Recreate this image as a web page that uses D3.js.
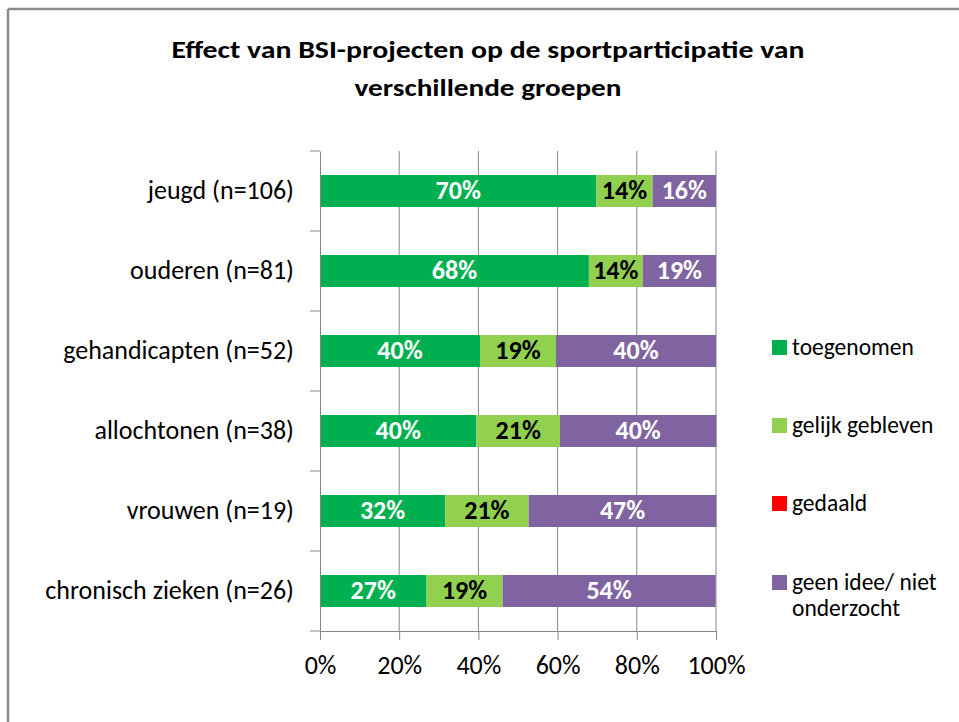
<!DOCTYPE html>
<meta charset="utf-8">
<style>
body{ margin:0; background:#fff; }
text{ font-family: Calibri, Carlito, "Open Sans", sans-serif; }
</style>
<body>
<script src="https://d3js.org/d3.v7.min.js"></script>
<script>
// groups and their shares (percent of n), top to bottom
var groups = ["jeugd (n=106)", "ouderen (n=81)", "gehandicapten (n=52)",
  "allochtonen (n=38)", "vrouwen (n=19)", "chronisch zieken (n=26)"];
var toegenomen = [69.8, 67.9, 40.4, 39.5, 31.6, 26.9];
var gelijk     = [14.2, 13.6, 19.2, 21.1, 21.1, 19.2];
var gedaald    = [0, 0, 0, 0, 0, 0];
var geenIdee   = [16.0, 18.5, 40.4, 39.5, 47.4, 53.8];
var seriesNames = ["toegenomen", "gelijk gebleven", "gedaald", "geen idee/ niet onderzocht"];
var colors = ["#00b050", "#92d050", "#ff0000", "#8064a2"];
var labelColors = ["#fff", "#000", "#fff", "#fff"];
var ticks = [0, 20, 40, 60, 80, 100];

var w = 959, h = 722;
var svg = d3.select("body").append("svg").attr("width", w).attr("height", h);

// chart frame (only top and left edges visible)
svg.append("line").attr("x1", 8).attr("x2", w).attr("y1", 9).attr("y2", 9)
  .attr("stroke", "#8c8c8c").attr("stroke-width", 2.5);
svg.append("line").attr("x1", 8).attr("x2", 8).attr("y1", 9).attr("y2", h)
  .attr("stroke", "#8c8c8c").attr("stroke-width", 2.5);

// title (the original is rendered a bit wider than the font, so fix the lengths)
svg.append("text").attr("text-anchor", "middle").attr("x", 488).attr("y", 58)
  .style("font-size", "25px").style("font-weight", "bold").attr("fill", "#000")
  .attr("textLength", 633).attr("lengthAdjust", "spacingAndGlyphs")
  .text("Effect van BSI-projecten op de sportparticipatie van");
svg.append("text").attr("text-anchor", "middle").attr("x", 488).attr("y", 96)
  .style("font-size", "25px").style("font-weight", "bold").attr("fill", "#000")
  .attr("textLength", 267).attr("lengthAdjust", "spacingAndGlyphs")
  .text("verschillende groepen");

var x = d3.scaleLinear().domain([0, 100]).range([320, 716]);
var y = d3.scaleBand().domain(groups).range([151, 631]).paddingInner(0.6).paddingOuter(0.3);

// gridlines
svg.append("g").selectAll("line").data(ticks.slice(1)).enter().append("line")
  .attr("x1", function(d) { return x(d); }).attr("x2", function(d) { return x(d); })
  .attr("y1", 151).attr("y2", 631)
  .attr("stroke", "#868686").attr("stroke-width", 1);

var keys = ["s0", "s1", "s2", "s3"];
var data = groups.map(function(g, i) {
  return { group: g, s0: toegenomen[i], s1: gelijk[i], s2: gedaald[i], s3: geenIdee[i] };
});
var stack = d3.stack().keys(keys)(data);

var layer = svg.append("g").selectAll("g").data(stack).enter().append("g")
  .attr("fill", function(d, i) { return colors[i]; });

layer.selectAll("rect").data(function(d) { return d; }).enter().append("rect")
  .attr("x", function(d) { return x(d[0]); })
  .attr("y", function(d) { return y(d.data.group); })
  .attr("width", function(d) { return x(d[1]) - x(d[0]); })
  .attr("height", y.bandwidth());

layer.each(function(s, si) {
  var key = keys[si];
  d3.select(this).selectAll("text").data(s.filter(function(d) { return d.data[key] > 0; }))
    .enter().append("text")
    .attr("x", function(d) { return (x(d[0]) + x(d[1])) / 2; })
    .attr("y", function(d) { return y(d.data.group) + y.bandwidth() / 2; })
    .attr("dy", "0.32em")
    .attr("text-anchor", "middle")
    .style("font-size", "26px").style("font-weight", "bold")
    .attr("fill", labelColors[si])
    .text(function(d) { return Math.round(d.data[key]) + "%"; });
});

// axes
var xAxis = svg.append("g").attr("transform", "translate(0,631)")
  .call(d3.axisBottom(x).tickValues(ticks).tickSize(9).tickPadding(16)
    .tickFormat(function(d) { return d + "%"; }));
var yAxis = svg.append("g").attr("transform", "translate(320,0)")
  .call(d3.axisLeft(y).tickSize(0).tickPadding(26));
yAxis.selectAll("text").attr("dy", "0.3em");

// category tick marks at band boundaries
svg.append("g").selectAll("line").data(d3.range(groups.length + 1)).enter().append("line")
  .attr("x1", 310).attr("x2", 320)
  .attr("y1", function(i) { return 151 + i * 80; }).attr("y2", function(i) { return 151 + i * 80; })
  .attr("stroke", "#868686");

[xAxis, yAxis].forEach(function(a) {
  a.select(".domain").attr("stroke", "#868686");
  a.selectAll(".tick line").attr("stroke", "#868686");
  a.selectAll("text").style("font-size", "26px").attr("fill", "#000")
    .style("font-family", "Calibri, Carlito, 'Open Sans', sans-serif");
});

// legend
var legendY = [347, 425, 503, 582];
var legend = svg.append("g").selectAll("g").data(seriesNames).enter().append("g")
  .attr("transform", function(d, i) { return "translate(772," + legendY[i] + ")"; });
legend.append("rect").attr("x", 0).attr("y", -7).attr("width", 15).attr("height", 15)
  .attr("fill", function(d, i) { return colors[i]; });
legend.append("text").attr("x", 20).attr("y", 0)
  .style("font-size", "23.5px").attr("fill", "#000")
  .each(function(d) {
    var parts = d === "geen idee/ niet onderzocht" ? ["geen idee/ niet", "onderzocht"] : [d];
    var t = d3.select(this);
    parts.forEach(function(p, k) {
      t.append("tspan").attr("x", 20).attr("dy", k === 0 ? "0.35em" : "26px").text(p);
    });
  });
</script>
</body>
